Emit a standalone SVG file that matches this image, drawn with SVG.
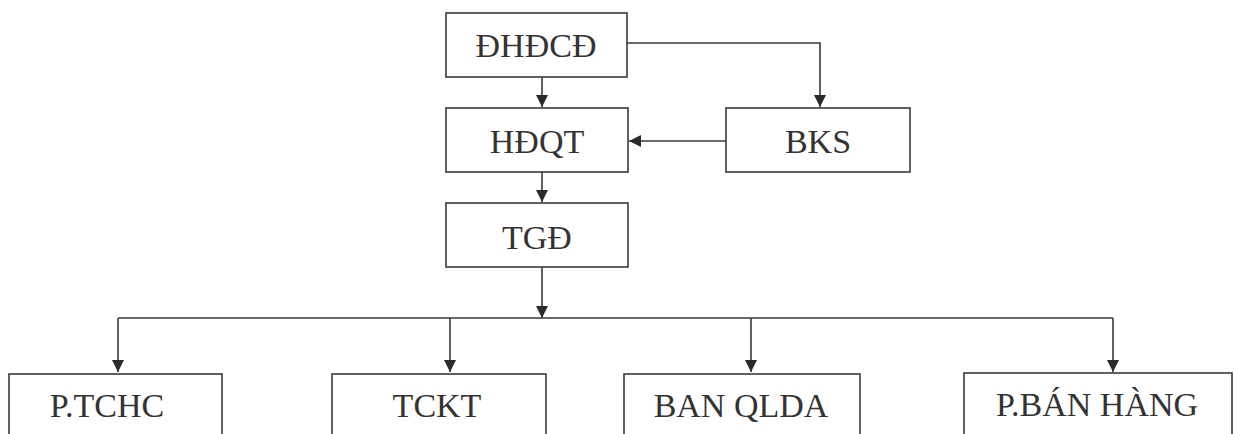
<svg xmlns="http://www.w3.org/2000/svg" width="1234" height="434" viewBox="0 0 1234 434">
<style>
.box{fill:#fff;stroke:#3a3a3a;stroke-width:1.6}
.lbl{font-family:'Liberation Serif','Times New Roman','DejaVu Serif',serif;font-size:34px;fill:#333;text-anchor:middle}
.con{fill:none;stroke:#3a3a3a;stroke-width:1.6}
</style>
<defs>
<marker id="ah" markerWidth="12" markerHeight="12" refX="12" refY="6" orient="auto" markerUnits="userSpaceOnUse">
<path d="M0,0 L12,6 L0,12 Z" fill="#2a2a2a"/>
</marker>
</defs>
<rect width="1234" height="434" fill="#fff"/>
<g id="connectors">
<path class="con" d="M542,77 V107" marker-end="url(#ah)"/>
<path class="con" d="M627,43 H820 V107" marker-end="url(#ah)"/>
<path class="con" d="M726,141 H629" marker-end="url(#ah)"/>
<path class="con" d="M542,172 V202" marker-end="url(#ah)"/>
<path class="con" d="M542,267 V318" marker-end="url(#ah)"/>
<path class="con" d="M118,318 H1113"/>
<path class="con" d="M118,318 V372" marker-end="url(#ah)"/>
<path class="con" d="M450,318 V372" marker-end="url(#ah)"/>
<path class="con" d="M751,318 V372" marker-end="url(#ah)"/>
<path class="con" d="M1113,318 V372" marker-end="url(#ah)"/>
</g>
<g id="dhdcd"><rect class="box" x="446" y="13" width="181" height="64"/><text class="lbl" x="536" y="57" font-family="Liberation Serif, serif">ĐHĐCĐ</text></g>
<g id="hdqt"><rect class="box" x="446" y="108" width="182" height="64"/><text class="lbl" x="537" y="153">HĐQT</text></g>
<g id="bks"><rect class="box" x="726" y="108" width="184" height="64"/><text class="lbl" x="818" y="153">BKS</text></g>
<g id="tgd"><rect class="box" x="446" y="203" width="182" height="64"/><text class="lbl" x="537" y="249">TGĐ</text></g>
<g id="ptchc"><rect class="box" x="9" y="374" width="213" height="70"/><text class="lbl" x="107" y="417">P.TCHC</text></g>
<g id="tckt"><rect class="box" x="332" y="374" width="214" height="70"/><text class="lbl" x="437" y="417">TCKT</text></g>
<g id="banqlda"><rect class="box" x="624" y="374" width="236" height="70"/><text class="lbl" x="741" y="417">BAN QLDA</text></g>
<g id="pbanhang"><rect class="box" x="964" y="373" width="268" height="71"/><text class="lbl" x="1097" y="416">P.BÁN HÀNG</text></g>
</svg>
